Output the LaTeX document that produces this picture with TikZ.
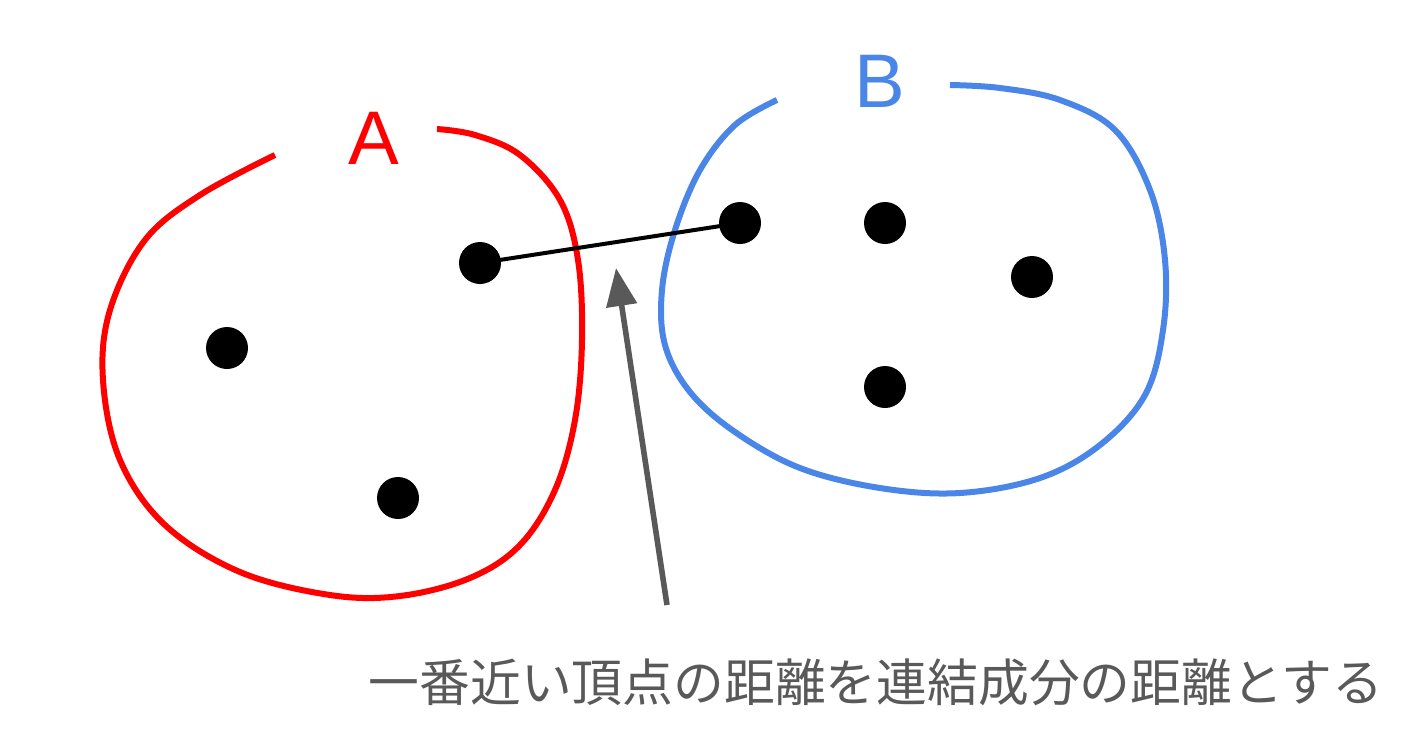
\documentclass[tikz,border=0pt]{standalone}
\usepackage{fontspec}
\setmainfont{Liberation Sans}
\newfontfamily\cjk{Noto Sans CJK JP}
\usetikzlibrary{arrows.meta}
\definecolor{redc}{HTML}{FF0000}
\definecolor{bluec}{HTML}{4A86E8}
\definecolor{grayc}{HTML}{595959}
\tikzset{
  dot/.style={circle,fill=black,inner sep=0pt,minimum width=20pt,minimum height=21pt},
  setline/.style={line width=3pt,line cap=butt},
  lbl/.style={font=\fontsize{38}{40}\selectfont,inner sep=0pt},
}
\begin{document}
\begin{tikzpicture}[x=0.5pt,y=-0.5pt]
\useasboundingbox (0,0) rectangle (1428,750);
% red set A
\draw[setline,redc] plot[smooth,tension=0.6] coordinates {
 (275,155) (200,195) (145,240) (110,310) (103,380) (120,460) (165,525)
 (240,572) (330,595) (400,596) (470,578) (520,545) (555,490) (575,420)
 (582,340) (578,260) (560,200) (520,155) (475,135) (437,129)};
\node[lbl,text=redc] (la) at (374,138) {A};
% blue set B
\draw[setline,bluec] plot[smooth,tension=0.6] coordinates {
 (777,100) (735,125) (700,170) (675,230) (662,290) (665,345) (690,392)
 (735,432) (800,468) (880,488) (960,493) (1040,478) (1100,445) (1145,395)
 (1163,330) (1165,260) (1150,190) (1115,130) (1060,100) (1000,88) (950,85)};
\node[lbl,text=bluec] (lb) at (880,81) {B};
% vertices
\node[dot] (a1) at (480,263) {};
\node[dot] (a2) at (227,348) {};
\node[dot] (a3) at (398,498) {};
\node[dot] (b1) at (740,223) {};
\node[dot] (b2) at (885,223) {};
\node[dot] (b3) at (1032,277) {};
\node[dot] (b4) at (885,387) {};
\draw[line width=2pt] (a1.center) -- (b1.center);
% arrow
\coordinate (tail) at (667,605);
\coordinate (tip) at (616,268);
\draw[line width=2.8pt,grayc,-{Triangle[length=19pt,width=15pt]}] (tail) -- (tip);
\node[font=\cjk\fontsize{25.4}{28}\selectfont,text=grayc,inner sep=0pt] (cap) at (876,682) {一番近い頂点の距離を連結成分の距離とする};
\end{tikzpicture}
\end{document}
